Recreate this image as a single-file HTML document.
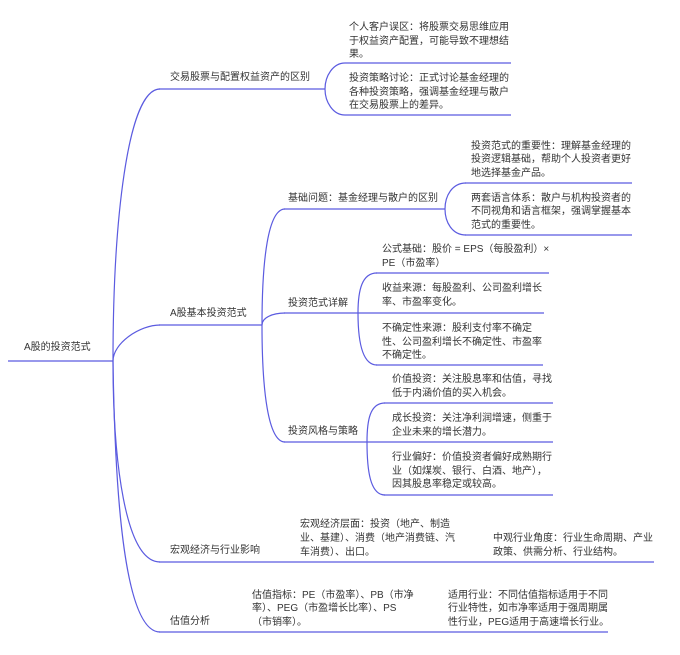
<!DOCTYPE html>
<html><head><meta charset="utf-8"><style>
html,body{margin:0;padding:0;background:#fff;}
svg{display:block;}
text{font-family:"Liberation Sans","Noto Sans CJK SC",sans-serif;font-size:10px;fill:#333;}
path,line{stroke:#5b5be0;stroke-width:1.2;fill:none;}
</style></head><body>
<svg width="680" height="655" viewBox="0 0 680 655" xmlns="http://www.w3.org/2000/svg">
<!-- root -->
<line x1="8" y1="361" x2="113" y2="361"/>
<text x="24" y="350">A股的投资范式</text>
<!-- trunk curves -->
<path d="M113,361 C113,225 127,89 160,89"/>
<path d="M113,361 C113,343 140,325 160,325"/>
<path d="M113,361 C113,460 125,562 160,562"/>
<path d="M113,361 C115,500 125,632 160,632"/>
<!-- branch1 -->
<line x1="159" y1="89" x2="325" y2="89"/>
<text x="170" y="80">交易股票与配置权益资产的区别</text>
<path d="M325,89 C325,76 333,63 345,63"/>
<path d="M325,89 C325,102 333,115 345,115"/>
<line x1="345" y1="63" x2="511" y2="63"/>
<line x1="345" y1="115" x2="511" y2="115"/>
<text x="349" y="30">个人客户误区：将股票交易思维应用</text>
<text x="349" y="44">于权益资产配置，可能导致不理想结</text>
<text x="349" y="57">果。</text>
<text x="349" y="81">投资策略讨论：正式讨论基金经理的</text>
<text x="349" y="95">各种投资策略，强调基金经理与散户</text>
<text x="349" y="108">在交易股票上的差异。</text>
<!-- branch2 -->
<line x1="159" y1="325" x2="262" y2="325"/>
<text x="170" y="316">A股基本投资范式</text>
<path d="M262,325 C262,260 268,209 285,209"/>
<path d="M262,325 C262,318 272,313 285,313"/>
<path d="M262,325 C262,390 268,442 285,442"/>
<!-- sub1 -->
<line x1="284" y1="209" x2="445" y2="209"/>
<text x="288" y="201">基础问题：基金经理与散户的区别</text>
<path d="M445,209 C445,196 452,183 466,183"/>
<path d="M445,209 C445,222 452,235 466,235"/>
<line x1="465" y1="183" x2="632" y2="183"/>
<line x1="465" y1="235" x2="632" y2="235"/>
<text x="471" y="149">投资范式的重要性：理解基金经理的</text>
<text x="471" y="162">投资逻辑基础，帮助个人投资者更好</text>
<text x="471" y="176">地选择基金产品。</text>
<text x="471" y="201">两套语言体系：散户与机构投资者的</text>
<text x="471" y="214">不同视角和语言框架，强调掌握基本</text>
<text x="471" y="228">范式的重要性。</text>
<!-- sub2 -->
<line x1="284" y1="313" x2="358" y2="313"/>
<text x="288" y="306">投资范式详解</text>
<path d="M358,313 C358,290 362,273 377,273"/>
<path d="M358,313 C358,340 362,365 377,365"/>
<line x1="376" y1="273" x2="549" y2="273"/>
<line x1="358" y1="313" x2="544" y2="313"/>
<line x1="376" y1="365" x2="543" y2="365"/>
<text x="382" y="252">公式基础：股价 = EPS（每股盈利）×</text>
<text x="382" y="266">PE（市盈率）</text>
<text x="382" y="291">收益来源：每股盈利、公司盈利增长</text>
<text x="382" y="305">率、市盈率变化。</text>
<text x="382" y="331">不确定性来源：股利支付率不确定</text>
<text x="382" y="345">性、公司盈利增长不确定性、市盈率</text>
<text x="382" y="358">不确定性。</text>
<!-- sub3 -->
<line x1="284" y1="442" x2="367" y2="442"/>
<text x="288" y="434">投资风格与策略</text>
<path d="M367,442 C367,420 370,403 385,403"/>
<path d="M367,442 C367,470 370,495 385,495"/>
<line x1="384" y1="403" x2="553" y2="403"/>
<line x1="367" y1="442" x2="553" y2="442"/>
<line x1="384" y1="495" x2="553" y2="495"/>
<text x="392" y="382">价值投资：关注股息率和估值，寻找</text>
<text x="392" y="396">低于内涵价值的买入机会。</text>
<text x="392" y="421">成长投资：关注净利润增速，侧重于</text>
<text x="392" y="435">企业未来的增长潜力。</text>
<text x="392" y="460">行业偏好：价值投资者偏好成熟期行</text>
<text x="392" y="474">业（如煤炭、银行、白酒、地产），</text>
<text x="392" y="487">因其股息率稳定或较高。</text>
<!-- branch3 -->
<line x1="159" y1="562" x2="654" y2="562"/>
<text x="170" y="553">宏观经济与行业影响</text>
<text x="300" y="527">宏观经济层面：投资（地产、制造</text>
<text x="300" y="541">业、基建）、消费（地产消费链、汽</text>
<text x="300" y="555">车消费）、出口。</text>
<text x="493" y="541">中观行业角度：行业生命周期、产业</text>
<text x="493" y="555">政策、供需分析、行业结构。</text>
<!-- branch4 -->
<line x1="159" y1="632" x2="608" y2="632"/>
<text x="170" y="624">估值分析</text>
<text x="252" y="598">估值指标：PE（市盈率）、PB（市净</text>
<text x="252" y="611">率）、PEG（市盈增长比率）、PS</text>
<text x="252" y="625">（市销率）。</text>
<text x="448" y="598">适用行业：不同估值指标适用于不同</text>
<text x="448" y="611">行业特性，如市净率适用于强周期属</text>
<text x="448" y="625">性行业，PEG适用于高速增长行业。</text>
</svg>
</body></html>
